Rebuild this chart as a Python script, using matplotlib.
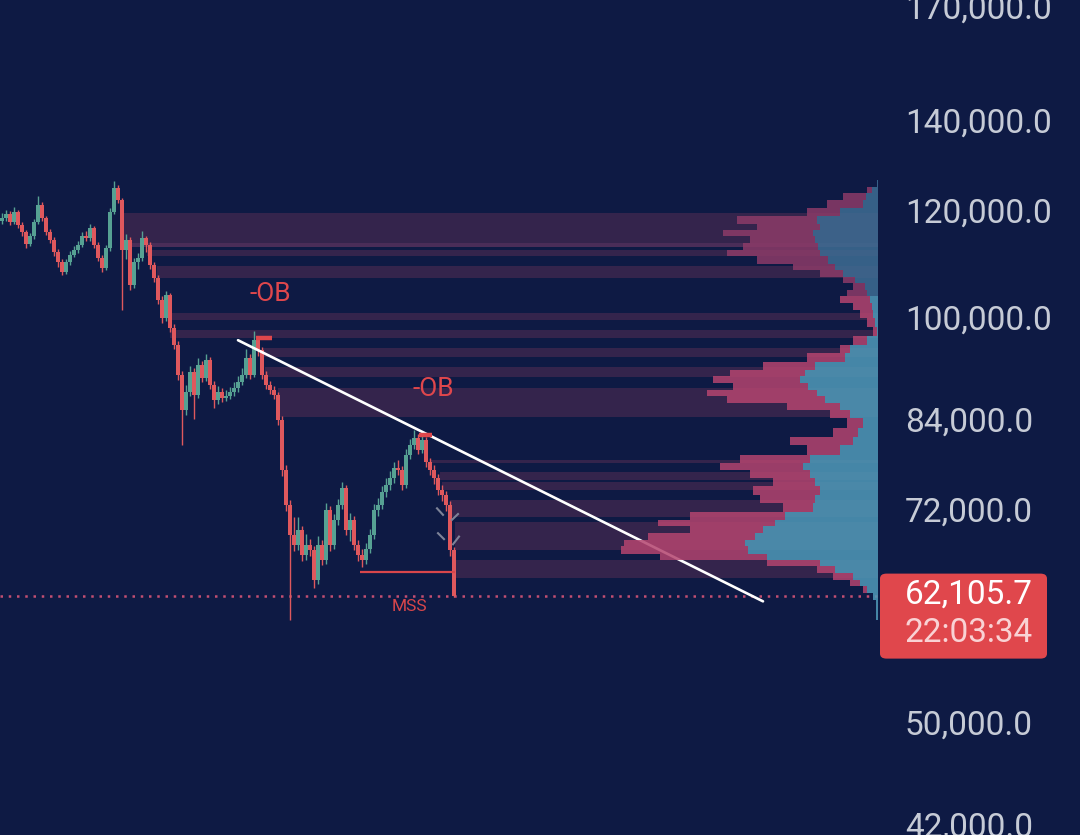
import numpy as np
import matplotlib.pyplot as plt
from matplotlib.patches import FancyBboxPatch
from matplotlib.ticker import FixedLocator, NullLocator

plt.rcParams['font.family'] = ['Roboto', 'DejaVu Sans']

BG = '#0e1a44'
UP = '#56a193'
DOWN = '#df585d'
RED = '#e0474c'

# daily candles, prices in thousands (open = previous close)
first_open = 117.8
close_k = [118.4, 119.2, 117.6, 119.6, 117.0, 115.6, 113.3, 114.8, 117.6, 121.1,
           118.4, 115.6, 114.1, 111.7, 109.8, 108.0, 109.8, 111.2, 112.1, 113.1,
           114.8, 114.4, 116.4, 113.1, 110.6, 108.7, 112.5, 119.6, 124.7, 122.1,
           112.1, 114.1, 105.6, 109.8, 110.6, 114.4, 113.1, 109.3, 106.9, 103.0,
           99.8, 103.8, 98.1, 95.3, 90.6, 85.3, 88.0, 91.0, 87.5, 92.1,
           90.1, 92.9, 89.0, 86.8, 88.0, 87.1, 87.4, 88.0, 88.6, 89.5,
           90.6, 93.2, 90.6, 96.1, 94.5, 90.6, 89.0, 88.3, 87.5, 83.9,
           77.0, 72.5, 68.9, 67.7, 69.5, 66.6, 67.7, 67.1, 63.8, 67.7,
           66.0, 71.9, 67.7, 70.7, 72.5, 74.6, 69.5, 70.7, 67.7, 66.6,
           66.0, 67.3, 68.9, 71.9, 72.5, 74.1, 75.0, 75.9, 77.2, 77.0,
           75.0, 79.0, 80.3, 81.3, 79.7, 81.0, 78.0, 77.0, 75.9, 74.4,
           73.7, 72.5, 67.1, 62.1057]
high_k = [119.5, 120.0, 119.8, 120.6, 120.0, 117.6, 116.0, 115.5, 118.2, 123.0,
          121.8, 118.9, 116.2, 114.6, 112.3, 110.4, 110.5, 111.9, 112.8, 113.8,
          115.6, 115.9, 117.2, 116.9, 113.6, 111.2, 113.0, 120.4, 126.1, 125.2,
          122.6, 115.2, 114.6, 110.6, 111.6, 115.9, 114.9, 113.6, 109.8, 107.4,
          103.7, 104.6, 104.2, 98.8, 95.9, 91.1, 89.0, 92.0, 91.6, 93.3,
          92.7, 93.9, 93.4, 89.6, 88.9, 88.6, 88.2, 88.7, 89.4, 90.4,
          91.6, 94.6, 93.8, 97.6, 96.8, 95.0, 91.2, 89.7, 88.9, 88.0,
          84.4, 77.6, 73.1, 71.0, 71.0, 70.0, 69.0, 68.4, 67.6, 68.8,
          68.3, 72.8, 72.4, 71.4, 73.2, 75.4, 75.0, 71.5, 71.2, 68.3,
          67.2, 68.0, 69.6, 72.6, 73.4, 74.9, 75.9, 76.8, 78.0, 78.3,
          77.5, 79.8, 81.2, 82.4, 81.9, 82.0, 81.5, 78.6, 77.6, 76.5,
          75.0, 74.3, 73.0, 67.5]
low_k = [117.2, 117.9, 117.0, 117.2, 116.5, 114.9, 112.6, 112.8, 114.3, 117.2,
         117.8, 115.0, 113.5, 111.0, 109.0, 107.4, 107.6, 109.2, 110.7, 111.6,
         112.7, 113.8, 113.9, 112.5, 110.0, 108.0, 108.3, 112.0, 119.2, 121.4,
         101.2, 110.5, 104.8, 105.1, 108.6, 110.1, 111.8, 108.6, 106.2, 102.3,
         98.9, 99.3, 97.4, 94.6, 89.8, 80.3, 84.6, 87.4, 84.0, 87.0,
         89.4, 89.6, 88.4, 85.6, 86.2, 86.5, 86.6, 86.9, 87.4, 88.0,
         89.0, 90.1, 90.0, 90.2, 93.6, 89.9, 88.4, 87.6, 86.9, 83.2,
         76.2, 71.8, 59.6, 67.0, 67.1, 65.9, 66.0, 66.4, 62.9, 63.3,
         65.4, 65.6, 67.0, 67.2, 70.1, 72.0, 68.9, 68.2, 67.1, 65.9,
         65.2, 65.5, 66.8, 68.4, 71.2, 72.0, 73.5, 74.4, 75.3, 76.3,
         74.4, 74.6, 78.5, 79.8, 79.1, 79.2, 77.4, 76.3, 75.2, 73.7,
         73.0, 71.8, 66.5, 62.0]

# order block zones (thousands) and the bar where each starts
band_lo = [113.5, 112.7, 111.0, 106.9, 99.5, 96.5, 93.4, 90.3, 84.3, 77.9, 75.7, 74.4, 71.0, 67.1, 64.0]
band_hi = [119.5, 113.5, 112.1, 109.1, 100.7, 97.8, 94.8, 91.8, 88.6, 78.3, 76.7, 75.4, 73.1, 70.4, 66.0]
band_start = [29.5, 29.5, 36.25, 38.75, 42, 42, 65, 65.75, 69, 107, 109.5, 110, 112, 113.25, 113.25]
band_bright = [False, True, False, False, False, False, False, False, False, False, False, False, False, False, False]

# volume profile rows (thousands), up / down volume
vp_price = [125.7, 124.2, 122.8, 121.5, 119.5, 118.0, 116.6, 115.4, 114.1, 112.7,
            111.6, 110.2, 108.9, 107.8, 106.5, 105.3, 104.2, 103.0, 101.7, 100.7,
            99.0, 97.5, 96.1, 94.5, 93.4, 91.8, 90.9, 89.8, 88.7, 87.8,
            86.8, 85.7, 84.9, 83.4, 82.0, 81.0, 79.7, 78.3, 77.4, 76.6,
            75.3, 74.4, 73.1, 72.3, 71.0, 70.3, 69.5, 68.7, 68.0, 67.1,
            66.3, 65.7, 64.9, 64.1, 63.5, 62.7, 62.1, 61.1, 60.1]
vp_up = [1, 6, 12, 15, 38, 61, 58, 65, 63, 60, 58, 50, 43, 35, 23, 13, 11, 8, 6, 5,
         3, 1, 11, 28, 33, 63, 73, 78, 70, 61, 53, 38, 28, 15, 20, 25, 38, 68, 75, 68,
         63, 58, 63, 65, 93, 103, 115, 123, 133, 130, 111, 58, 43, 25, 18, 11, 5, 2, 2]
vp_down = [0, 5, 23, 36, 33, 80, 63, 90, 65, 75, 93, 71, 42, 23, 12, 12, 20, 30, 19, 13,
           8, 4, 14, 10, 38, 52, 75, 87, 75, 110, 98, 53, 20, 16, 25, 63, 33, 70, 83, 60,
           42, 67, 55, 30, 95, 118, 73, 108, 122, 128, 107, 53, 18, 20, 10, 4, 0, 0, 0]
value_area_top = 104.2

last_price = 62105.7
countdown = '22:03:34'
yticks = [170000, 140000, 120000, 100000, 84000, 72000, 50000, 42000]

# drawings
trend_x = [59, 190.25]
trend_y = [96100, 61500]
ob_marks = [(63.5, 67.5, 96400), (104.3, 107.5, 81700)]
ob_labels = [(67, 104000), (107.75, 88400)]
mss_y = 64700
mss_x = [89.5, 113.3]
chevrons = [((108.75, 72100), (110.25, 71300)), ((112.5, 70700), (114, 71400)),
            ((109, 69100), (110.5, 68400)), ((112.75, 67800), (114.25, 68700))]

fig = plt.figure(figsize=(10.8, 8.35), dpi=100)
fig.patch.set_facecolor(BG)
ax = fig.add_axes([0, 0, 880 / 1080, 1])
ax.set_facecolor(BG)
ax.set_yscale('log')
ax.set_xlim(-0.5, 219.5)
ax.set_ylim(41250, 171900)
for s in ax.spines.values():
    s.set_visible(False)

# zones
for lo, hi, st, br in zip(band_lo, band_hi, band_start, band_bright):
    ax.fill_between([st, 219], lo * 1000, hi * 1000, color='#4a2d58' if br else '#34244c',
                    lw=0, zorder=1)

# candles
close = np.array(close_k) * 1000
opn = np.concatenate([[first_open * 1000], close[:-1]])
high = np.array(high_k) * 1000
low = np.array(low_k) * 1000
x = np.arange(len(close))
cols = np.where(close >= opn, UP, DOWN)
ax.vlines(x, low, high, colors=cols, lw=1.0, zorder=3)
ax.bar(x, np.abs(close - opn), bottom=np.minimum(opn, close), width=0.88, color=cols,
       lw=0, zorder=3)

ax.axhline(last_price, color='#c24f72', lw=1.8, ls=(0, (1, 2.3)), zorder=2)
ax.plot(trend_x, trend_y, color='white', lw=1.9, zorder=4, solid_capstyle='round')
for x0, x1, y in ob_marks:
    ax.hlines(y, x0, x1, color=RED, lw=3.2, zorder=5)
for xl, yl in ob_labels:
    ax.text(xl, yl, '-OB', color=RED, fontsize=19, ha='center', va='center', zorder=6)
ax.hlines(mss_y, mss_x[0], mss_x[1], color='#d8464b', lw=1.6, zorder=4)
ax.text(101.75, 61000, 'MSS', color='#d8464b', fontsize=12.5, ha='center', va='center')
for (xa, ya), (xb, yb) in chevrons:
    ax.plot([xa, xb], [ya, yb], color='#7d8398', lw=1.5, zorder=4)

# y axis on the right
ax.yaxis.tick_right()
ax.yaxis.set_major_locator(FixedLocator(yticks))
ax.yaxis.set_minor_locator(NullLocator())
ax.set_yticklabels([f'{t:,.1f}' for t in yticks])
ax.tick_params(axis='y', length=0, pad=18, labelsize=24, labelcolor='#c6cbd6')
ax.tick_params(axis='x', bottom=False, labelbottom=False)

# volume profile
axp = ax.twiny()
axp.set_xlim(880, -2)
axp.patch.set_visible(False)
axp.axis('off')
p = np.array(vp_price) * 1000
mid = np.sqrt(p[:-1] * p[1:])
top = np.concatenate([[p[0] ** 2 / mid[0]], mid])
bot = np.concatenate([mid, [p[-1] ** 2 / mid[-1]]])
muted = np.array(vp_price) >= value_area_top
blue_c = np.where(muted, '#3e6d93', '#4f9ab9')
pink_c = np.where(muted, '#8c3b68', '#b4446f')
up = np.array(vp_up)
dn = np.array(vp_down)
axp.barh(bot, up, height=top - bot, left=0, align='edge', color=blue_c, lw=0, alpha=0.85)
axp.barh(bot, dn, height=top - bot, left=up, align='edge', color=pink_c, lw=0, alpha=0.85)

# last price tag
fig.canvas.draw()
yd = ax.transData.transform((0, last_price))[1]
H = fig.bbox.height
W = fig.bbox.width
box = FancyBboxPatch((880 / W, (yd - 63) / H), 167 / W, 85 / H,
                     boxstyle='round,pad=0,rounding_size=0.006', transform=fig.transFigure,
                     facecolor=RED, edgecolor='none')
fig.patches.append(box)
fig.text(905 / W, (yd + 1) / H, f'{last_price:,.1f}', color='white', fontsize=24,
         ha='left', va='center')
fig.text(905 / W, (yd - 37) / H, countdown, color='#f9d2d4', fontsize=24,
         ha='left', va='center')

fig.savefig('out.png', dpi=100, facecolor=BG)
